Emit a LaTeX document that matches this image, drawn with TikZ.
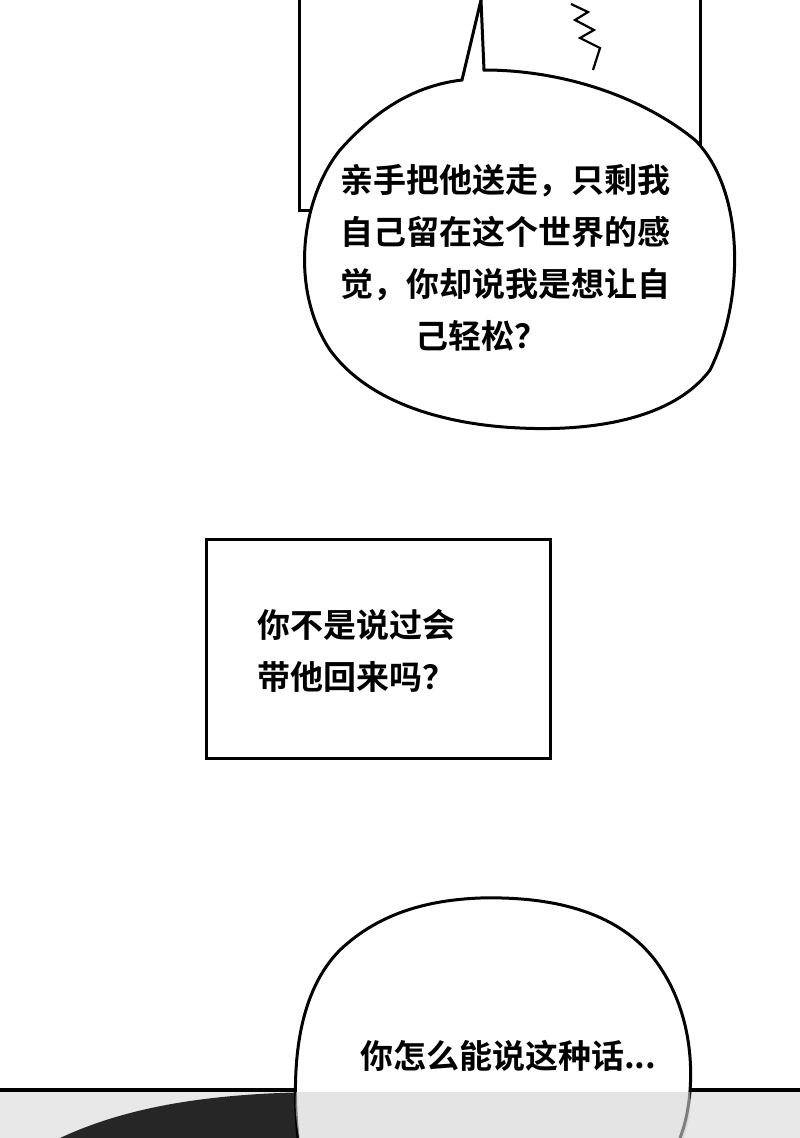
\documentclass[tikz,border=0pt]{standalone}
\usepackage{fontspec}
\newfontfamily\cjk{Noto Sans CJK SC}[BoldFont={Noto Sans CJK SC Bold}]
\begin{document}
\begin{tikzpicture}[x=1pt,y=-1pt]
  % Styles
  \tikzstyle{frame} = [draw=black, line width=3pt]
  \tikzstyle{bubble} = [draw=black, line width=3pt, fill=white]
  \tikzstyle{speech} = [font=\cjk\bfseries\fontsize{33}{52}\selectfont, align=left, inner sep=0pt]
  \useasboundingbox (0,0) rectangle (800,1138);
  \fill[white] (0,0) rectangle (800,1138);

  % Top panel
  \draw[frame] (299,0) -- (299,210) -- (700,210) -- (700,0);
  \draw[line width=2.2pt] (571,4) -- (588,12) -- (575,20) -- (594,30) -- (580,38) -- (600,48) -- (593,70);
  \draw[bubble] (462,80) -- (481,0) -- (484,70)
    .. controls (560,70) and (640,95) .. (695,140)
    .. controls (745,190) and (745,300) .. (710,370)
    .. controls (665,430) and (560,430) .. (520,428)
    .. controls (450,425) and (370,405) .. (330,350)
    .. controls (290,290) and (300,200) .. (340,150)
    .. controls (380,105) and (420,85) .. cycle;
  \node[speech, anchor=north west] (top) at (340,164) {亲手把他送走，只剩我\\自己留在这个世界的感\\觉，你却说我是想让自\\\hspace{75pt}己轻松？};

  % Middle box
  \node[frame, minimum width=344pt, minimum height=219pt, anchor=north west] (box) at (205,538) {};
  \node[speech, anchor=north west] (mid) at (257,609) {你不是说过会\\带他回来吗？};

  % Bottom panel
  \fill[gray!18] (0,1090) rectangle (800,1138);
  \fill[black!85] (60,1138) .. controls (120,1110) and (200,1092) .. (330,1092) -- (330,1138) -- cycle;
  \draw[frame, line width=3.5pt] (0,1090) -- (800,1090);
  \draw[bubble] (298,1138) .. controls (290,1060) and (300,990) .. (340,950)
    .. controls (380,912) and (430,900) .. (480,898)
    .. controls (560,896) and (620,915) .. (655,960)
    .. controls (700,1020) and (695,1100) .. (680,1138);
  \fill[gray!35, opacity=0.6] (296,1092) -- (690,1092) .. controls (692,1110) and (688,1125) .. (684,1138) -- (299,1138) .. controls (296,1120) and (295,1105) .. cycle;
  \node[speech, anchor=west] (bot) at (360,1056) {你怎么能说这种话...};
\end{tikzpicture}
\end{document}
